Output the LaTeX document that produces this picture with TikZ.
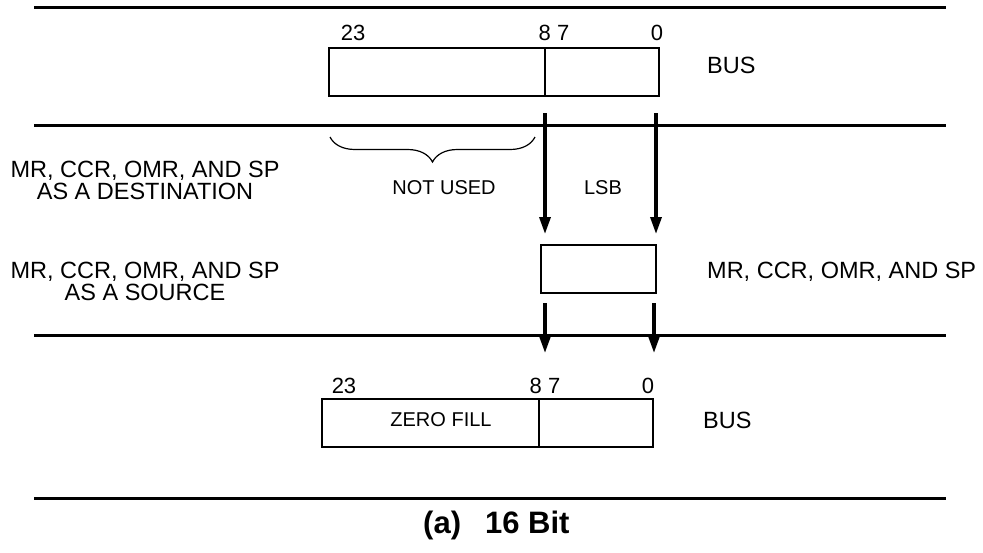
\documentclass[tikz,border=0pt]{standalone}
\usepackage{fontspec}
\setmainfont{Liberation Sans}
\usetikzlibrary{arrows.meta,decorations.pathreplacing}
\begin{document}
\begin{tikzpicture}[x=1pt,y=-1pt,
  rule/.style={line width=3pt},
  regbox/.style={draw=black,line width=1.4pt,minimum height=48pt,inner sep=0pt,outer sep=0pt,anchor=north west},
  divider/.style={line width=2.8pt},
  arr/.style={line width=3.3pt,-{Triangle[length=17pt,width=11pt]}},
  brc/.style={line width=1.2pt,decorate,decoration={brace,amplitude=25pt}},
  big/.style={font=\fontsize{23.5}{22}\selectfont,inner sep=0pt,anchor=base},
  num/.style={font=\fontsize{22}{22}\selectfont,inner sep=0pt,anchor=base},
  small/.style={font=\fontsize{20}{20}\selectfont,inner sep=0pt,anchor=base},
  captext/.style={font=\fontsize{31}{31}\selectfont\bfseries,inner sep=0pt,anchor=base west}]
\useasboundingbox (0,0) rectangle (983,552);

% horizontal rules
\draw[rule] (34,7) -- (946,7);
\draw[rule] (34,125) -- (946,125);
\draw[rule] (34,335) -- (946,335);
\draw[rule] (34,498) -- (946,498);

% top bus register
\node[regbox,minimum width=216pt] (topHi) at (329,48) {};
\node[regbox,minimum width=114pt] (topLo) at (545,48) {};
\draw[divider] (topHi.north east) -- (topHi.south east);
\node[num] (t23) at (353,40) {23};
\node[num] (t87) at (554,40) {8 7};
\node[num] (t0) at (657,40) {0};
\node[big,anchor=base west] (busTop) at (707,73) {BUS};

% destination
\node[big] (dst1) at (145,177) {MR, CCR, OMR, AND SP};
\node[big] (dst2) at (145,199) {AS A DESTINATION};
\draw[brc] (535,137) -- (330,137);
\node[small] (notused) at (444,194) {NOT USED};
\node[small] (lsb) at (603,194) {LSB};

% middle register
\node[regbox,minimum width=115pt] (mid) at (541,245) {};
\node[big,anchor=base west] (midlbl) at (707,278) {MR, CCR, OMR, AND SP};
\node[big] (src1) at (145,278) {MR, CCR, OMR, AND SP};
\node[big] (src2) at (145,300) {AS A SOURCE};

% bottom bus register
\node[regbox,minimum width=217pt] (botHi) at (322,399) {};
\node[regbox,minimum width=114pt] (botLo) at (539,399) {};
\draw[divider] (botHi.north east) -- (botHi.south east);
\node[small] (zf) at (441,426) {ZERO FILL};
\node[num] (b23) at (344,393) {23};
\node[num] (b87) at (545,393) {8 7};
\node[num] (b0) at (648,393) {0};
\node[big,anchor=base west] (busBot) at (703,428) {BUS};

% arrows
\coordinate (ta) at (545,113);
\coordinate (tb) at (656,113);
\coordinate (ma) at (545,234);
\coordinate (mb) at (656,234);
\coordinate (sa) at (545,303);
\coordinate (sb) at (654,303);
\coordinate (ba) at (545,353);
\coordinate (bb) at (654,353);
\draw[arr] (ta) -- (ma);
\draw[arr] (tb) -- (mb);
\draw[arr] (sa) -- (ba);
\draw[arr] (sb) -- (bb);

% caption
\node[captext] (caption) at (423,533) {(a)\hspace{24pt}16 Bit};
\end{tikzpicture}
\end{document}
